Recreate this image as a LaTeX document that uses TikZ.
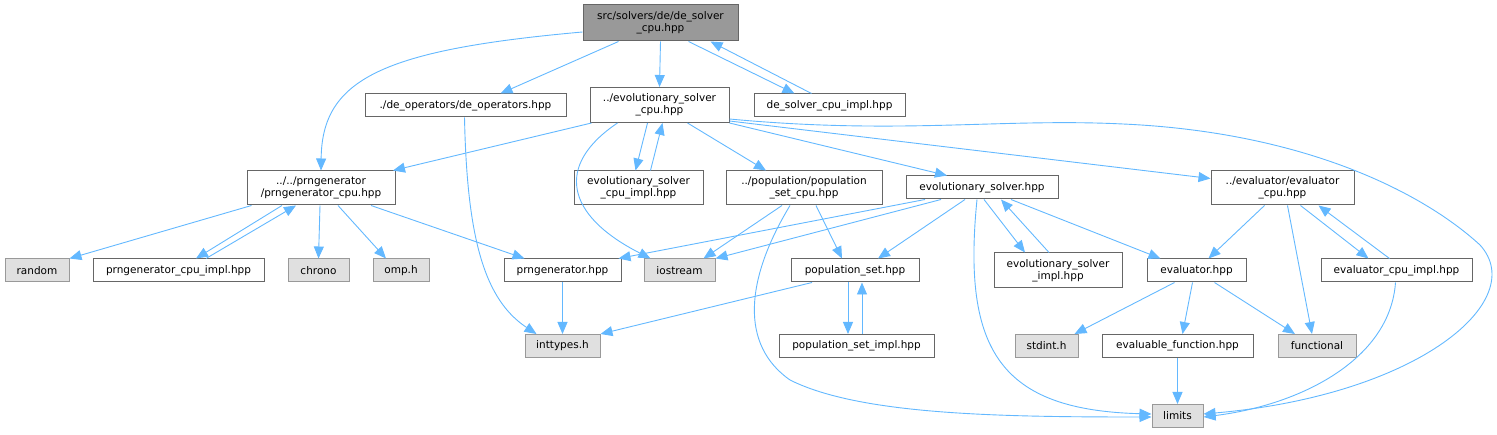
\documentclass[tikz,border=0pt]{standalone}
\usepackage{fontspec}
\setmainfont{DejaVu Sans}
\usetikzlibrary{arrows.meta}
\definecolor{edgeblue}{HTML}{63B8FF}
\definecolor{boxgray}{HTML}{666666}
\definecolor{sysgray}{HTML}{999999}
\definecolor{sysfill}{HTML}{E0E0E0}
\begin{document}
\begin{tikzpicture}[x=1pt, y=-1pt,
    file/.style={draw=boxgray, fill=white, line width=1pt, inner sep=0pt,
      minimum height=23pt, align=center, font=\fontsize{10.5}{12}\selectfont},
    sysfile/.style={file, draw=sysgray, fill=sysfill},
    rootfile/.style={file, fill=sysgray},
    dep/.style={draw=edgeblue, line width=0.9pt, -{Triangle[length=12pt,width=10pt]}}]
    \useasboundingbox (0,0) rectangle (1497,435);

    % top rows
    \node[rootfile, minimum width=155pt, minimum height=36pt] (root) at (660.5,23) {src/solvers/de/de\_solver\\\_cpu.hpp};
    \node[file, minimum width=201pt] (deops) at (465.5,105.5) {./de\_operators/de\_operators.hpp};
    \node[file, minimum width=139pt, minimum height=35pt] (evocpu) at (659.5,105) {../evolutionary\_solver\\\_cpu.hpp};
    \node[file, minimum width=151pt] (deimpl) at (829.5,105.5) {de\_solver\_cpu\_impl.hpp};
    \node[file, minimum width=148pt, minimum height=34pt] (prngcpu) at (321,188) {../../prngenerator\\/prngenerator\_cpu.hpp};
    \node[file, minimum width=129pt, minimum height=34pt] (evocpuimpl) at (638.5,188) {evolutionary\_solver\\\_cpu\_impl.hpp};
    \node[file, minimum width=156pt, minimum height=34pt] (popcpu) at (804,188) {../population/population\\\_set\_cpu.hpp};
    \node[file, minimum width=152pt] (evosolver) at (982,187.5) {evolutionary\_solver.hpp};
    \node[file, minimum width=143pt, minimum height=34pt] (evalcpu) at (1282.5,188) {../evaluator/evaluator\\\_cpu.hpp};

    % third row
    \node[sysfile, minimum width=64pt] (random) at (37,270.5) {random};
    \node[file, minimum width=171pt] (prngcpuimpl) at (178.5,270.5) {prngenerator\_cpu\_impl.hpp};
    \node[sysfile, minimum width=61pt] (chrono) at (318.5,270.5) {chrono};
    \node[sysfile, minimum width=56pt] (omp) at (401,270.5) {omp.h};
    \node[file, minimum width=117pt] (prng) at (562.5,270.5) {prngenerator.hpp};
    \node[sysfile, minimum width=71pt] (iostream) at (679.5,270.5) {iostream};
    \node[file, minimum width=128pt] (popset) at (855,270.5) {population\_set.hpp};
    \node[file, minimum width=128pt, minimum height=35pt] (evoimpl) at (1058,270.5) {evolutionary\_solver\\\_impl.hpp};
    \node[file, minimum width=99pt] (evaluator) at (1196.5,270.5) {evaluator.hpp};
    \node[file, minimum width=151pt] (evalcpuimpl) at (1396.5,270.5) {evaluator\_cpu\_impl.hpp};

    % bottom rows
    \node[sysfile, minimum width=75pt] (inttypes) at (562.5,346) {inttypes.h};
    \node[file, minimum width=155pt] (popsetimpl) at (856.5,346) {population\_set\_impl.hpp};
    \node[sysfile, minimum width=63pt] (stdint) at (1046.5,346) {stdint.h};
    \node[file, minimum width=151pt] (evalfn) at (1177.5,346) {evaluable\_function.hpp};
    \node[sysfile, minimum width=78pt] (functional) at (1317,346) {functional};
    \node[sysfile, minimum width=51pt] (limits) at (1177.5,416) {limits};

    % includes of the root file
    \draw[dep] ([yshift=-9pt]root.west) .. controls (380,50) and (322,80) .. (prngcpu.north);
    \draw[dep] ([xshift=-42pt]root.south) -- ([xshift=35pt]deops.north);
    \draw[dep] (root.south) -- (evocpu.north);
    \draw[dep] ([xshift=28pt]root.south) -- ([xshift=-35pt]deimpl.north);
    \draw[dep] ([xshift=-18pt]deimpl.north) -- ([xshift=50pt]root.south);
    \draw[dep] ([xshift=-1pt]deops.south) .. controls (467,240) and (485,300) .. ([xshift=-26pt]inttypes.north);

    % evolutionary_solver_cpu.hpp
    \draw[dep] ([xshift=-68pt]evocpu.south) -- ([xshift=72pt]prngcpu.north);
    \draw[dep] ([xshift=-42pt]evocpu.south) .. controls (555,165) and (565,215) .. ([xshift=-29pt]iostream.north);
    \draw[dep] ([xshift=-12pt]evocpu.south) -- ([xshift=-3pt]evocpuimpl.north);
    \draw[dep] ([xshift=12pt]evocpuimpl.north) -- ([xshift=3pt]evocpu.south);
    \draw[dep] ([xshift=28pt]evocpu.south) -- ([xshift=-38pt]popcpu.north);
    \draw[dep] (evocpu.south east) -- ([xshift=-35pt]evosolver.north);
    \draw[dep] ([yshift=2pt]evocpu.south east) -- ([yshift=-8pt]evalcpu.north west);
    \draw[dep] ([yshift=4pt]evocpu.south east) .. controls (900,135) and (1000,118) .. (1123,124)
        .. controls (1300,132) and (1420,190) .. (1480,245)
        .. controls (1530,300) and (1420,395) .. ([yshift=2pt]limits.east);

    % prngenerator_cpu.hpp
    \draw[dep] ([xshift=5pt]prngcpu.south west) -- (random.north east);
    \draw[dep] ([xshift=-39pt]prngcpu.south) -- ([xshift=17.5pt]prngcpuimpl.north);
    \draw[dep] ([xshift=27.5pt]prngcpuimpl.north) -- ([xshift=-25pt]prngcpu.south);
    \draw[dep] ([xshift=-1pt]prngcpu.south) -- (chrono.north);
    \draw[dep] ([xshift=17pt]prngcpu.south) -- ([xshift=-15pt]omp.north);
    \draw[dep] ([xshift=50pt]prngcpu.south) -- ([xshift=-38pt]prng.north);
    \draw[dep] (prng.south) -- (inttypes.north);

    % population_set_cpu.hpp
    \draw[dep] ([xshift=-22pt]popcpu.south) -- ([xshift=-12pt]iostream.north east);
    \draw[dep] ([xshift=-14pt]popcpu.south) .. controls (745,280) and (740,345) .. (790,380)
        .. controls (860,415) and (1000,417) .. ([yshift=-1pt]limits.west);
    \draw[dep] ([xshift=12pt]popcpu.south) -- ([xshift=-13pt]popset.north);
    \draw[dep] ([xshift=-43pt]popset.south) -- (inttypes.north east);
    \draw[dep] ([xshift=-7pt]popset.south) -- ([xshift=-8.5pt]popsetimpl.north);
    \draw[dep] ([xshift=5.5pt]popsetimpl.north) -- ([xshift=7pt]popset.south);

    % evolutionary_solver.hpp
    \draw[dep] ([xshift=-57pt]evosolver.south) -- ([xshift=-3pt]prng.north east);
    \draw[dep] ([xshift=-41pt]evosolver.south) -- (iostream.north east);
    \draw[dep] ([xshift=-17pt]evosolver.south) -- ([xshift=23pt]popset.north);
    \draw[dep] ([xshift=-5pt]evosolver.south) .. controls (962,350) and (1000,410) .. ([yshift=2pt]limits.west);
    \draw[dep] ([xshift=2pt]evosolver.south) -- ([xshift=-33pt]evoimpl.north);
    \draw[dep] ([xshift=-9pt]evoimpl.north) -- ([xshift=19pt]evosolver.south);
    \draw[dep] ([xshift=29pt]evosolver.south) -- ([xshift=-36pt]evaluator.north);

    % evaluator side
    \draw[dep] ([xshift=-18pt]evalcpu.south) -- ([xshift=12pt]evaluator.north);
    \draw[dep] ([xshift=5pt]evalcpu.south) -- ([xshift=-5pt]functional.north);
    \draw[dep] ([xshift=18pt]evalcpu.south) -- ([xshift=-28pt]evalcpuimpl.north);
    \draw[dep] ([xshift=-7pt]evalcpuimpl.north) -- ([xshift=36pt]evalcpu.south);
    \draw[dep] ([xshift=-1pt]evalcpuimpl.south) .. controls (1390,360) and (1300,405) .. ([yshift=-1pt]limits.east);
    \draw[dep] ([xshift=-22pt]evaluator.south) -- ([xshift=28pt]stdint.north);
    \draw[dep] ([xshift=-4pt]evaluator.south) -- ([xshift=5pt]evalfn.north);
    \draw[dep] ([xshift=18pt]evaluator.south) -- ([xshift=-22pt]functional.north);
    \draw[dep] (evalfn.south) -- (limits.north);
\end{tikzpicture}
\end{document}
